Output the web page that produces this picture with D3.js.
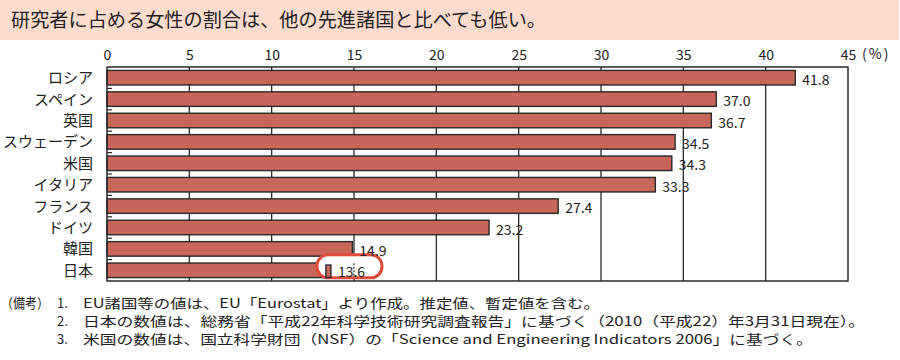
<!DOCTYPE html>
<html><head><meta charset="utf-8">
<script src="https://cdn.jsdelivr.net/npm/d3@7"></script>
<style>body{margin:0;background:#fff}svg{display:block}text{font-family:"Noto Sans CJK JP","Noto Sans",sans-serif}</style>
</head><body><svg id="c" width="900" height="360"></svg>
<script>
const title = "研究者に占める女性の割合は、他の先進諸国と比べても低い。";
const categories = ["ロシア","スペイン","英国","スウェーデン","米国","イタリア","フランス","ドイツ","韓国","日本"];
const values = [41.8,37.0,36.7,34.5,34.3,33.3,27.4,23.2,14.9,13.6];
const valueLabels = ["41.8","37.0","36.7","34.5","34.3","33.3","27.4","23.2","14.9","13.6"];
const tickValues = [0,5,10,15,20,25,30,35,40,45];
const unitLabel = "(%)";
const highlight = "日本";
const notesHead = "（備考）";
const notesNum = ["1.","2.","3."];
const notes = [
 "EU諸国等の値は、EU「Eurostat」より作成。推定値、暫定値を含む。",
 "日本の数値は、総務省「平成22年科学技術研究調査報告」に基づく（2010（平成22）年3月31日現在）。",
 "米国の数値は、国立科学財団（NSF）の「Science and Engineering Indicators 2006」に基づく。"
];
const noteWidths = [517, 782, 730];

const svg = d3.select("#c");
// banner
svg.append("rect").attr("x",0).attr("y",0).attr("width",899).attr("height",40).attr("fill","#fddccd");
svg.append("text").attr("x",11).attr("y",27).attr("font-size",19).attr("fill","#222")
  .attr("textLength",535).attr("lengthAdjust","spacingAndGlyphs").text(title);

const m = {l:107, r:848, t:67, b:281};
const x = d3.scaleLinear().domain([0,45]).range([m.l,m.r]);
const y = d3.scaleBand().domain(categories).range([m.t,m.b]).paddingInner(0.32).paddingOuter(0.16);
const step = y.step();
const dark = "#2a2a2a";

// gridlines
svg.append("g").selectAll("line").data(tickValues.slice(1,-1)).join("line")
  .attr("x1",d=>x(d)).attr("x2",d=>x(d)).attr("y1",m.t).attr("y2",m.b)
  .attr("stroke",dark).attr("stroke-width",1.3);

// left small ticks at band boundaries
svg.append("g").selectAll("line").data(d3.range(1,categories.length)).join("line")
  .attr("x1",m.l).attr("x2",m.l+5).attr("y1",i=>m.t+i*step).attr("y2",i=>m.t+i*step)
  .attr("stroke",dark).attr("stroke-width",1.2);

// bars
svg.append("g").selectAll("rect").data(categories).join("rect")
  .attr("x",x(0)).attr("y",d=>y(d)).attr("width",(d,i)=>x(values[i])-x(0)).attr("height",y.bandwidth())
  .attr("fill","#c8665a").attr("stroke",dark).attr("stroke-width",1.4);

// frame
svg.append("rect").attr("x",m.l).attr("y",m.t).attr("width",m.r-m.l).attr("height",m.b-m.t)
  .attr("fill","none").attr("stroke",dark).attr("stroke-width",1.5);

// top axis
const ax = svg.append("g").attr("transform",`translate(0,${m.t})`)
  .call(d3.axisTop(x).tickValues(tickValues).tickSize(0).tickPadding(6).tickFormat(d3.format("d")));
ax.select(".domain").remove();
ax.selectAll("text").attr("font-family","'Liberation Sans',Arial,sans-serif").attr("font-size",14).attr("fill","#222").attr("dy","-0.05em");
svg.append("text").attr("x",x(45)+14).attr("y",m.t-8).attr("font-size",14).attr("fill","#222")
  .attr("font-family","'Liberation Sans',Arial,sans-serif").attr("letter-spacing",2).text(unitLabel);

// category labels
svg.append("g").selectAll("text").data(categories).join("text")
  .attr("x",93).attr("y",d=>y(d)+y.bandwidth()/2).attr("dy","0.36em").attr("text-anchor","end")
  .attr("font-size",15).attr("fill","#222").text(d=>d);

// highlight box for Japan
const hi = categories.indexOf(highlight);
const hx = x(values[hi]);
const hy = y(highlight)+y.bandwidth()/2;
svg.append("rect").attr("x",hx-14).attr("y",hy-15.5).attr("width",65).attr("height",23).attr("rx",11)
  .attr("fill","#fff").attr("stroke","#e04a3c").attr("stroke-width",3);
svg.append("rect").attr("x",hx-5).attr("y",y(highlight)+2).attr("width",5).attr("height",y.bandwidth()-2)
  .attr("fill","#c8665a").attr("stroke",dark).attr("stroke-width",1.4);
svg.append("line").attr("x1",x(15)).attr("x2",x(15)).attr("y1",hy-7).attr("y2",hy+6)
  .attr("stroke",dark).attr("stroke-width",1.2).attr("stroke-dasharray","2,1.5");

// value labels
svg.append("g").selectAll("text").data(categories).join("text")
  .attr("x",(d,i)=>x(values[i])+7).attr("y",d=>y(d)+y.bandwidth()/2+2).attr("dy","0.36em")
  .attr("font-family","'Liberation Sans',Arial,sans-serif").attr("font-size",14).attr("fill","#222")
  .text((d,i)=>valueLabels[i]);

// notes
const ny = [303,321,339];
svg.append("text").attr("x",1).attr("y",ny[0]).attr("dy","0.36em").attr("font-size",13.5).attr("fill","#222")
  .attr("textLength",48).attr("lengthAdjust","spacingAndGlyphs").text(notesHead);
notes.forEach((t,i)=>{
  svg.append("text").attr("x",57).attr("y",ny[i]).attr("dy","0.36em").attr("font-size",13).attr("fill","#222")
    .attr("font-family","'Liberation Sans',Arial,sans-serif").text(notesNum[i]);
  svg.append("text").attr("x",83).attr("y",ny[i]).attr("dy","0.36em").attr("font-size",13).attr("fill","#222")
    .attr("textLength",noteWidths[i]).attr("lengthAdjust","spacingAndGlyphs").text(t);
});
</script></body></html>
